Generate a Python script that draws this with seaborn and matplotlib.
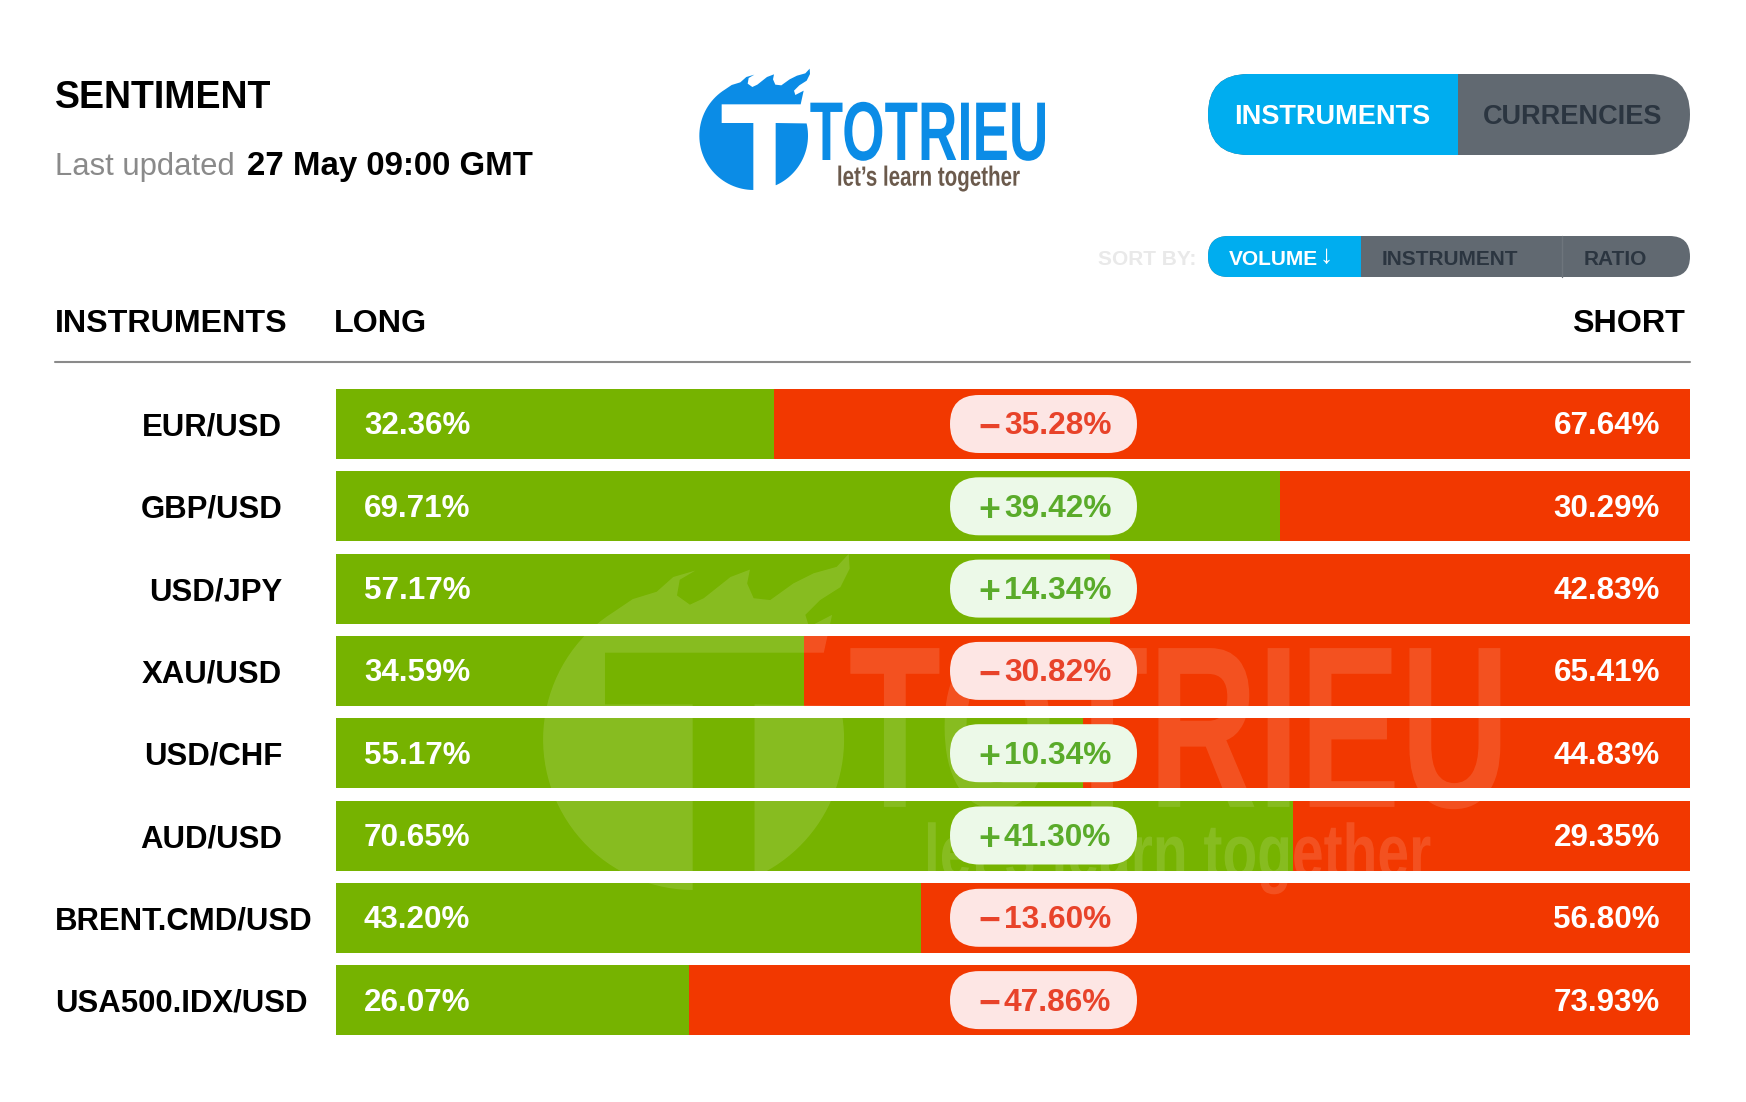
import matplotlib
matplotlib.use("Agg")
import matplotlib.pyplot as plt
import seaborn as sns
import numpy as np
import pandas as pd
from matplotlib.patches import FancyBboxPatch, Polygon, Rectangle
from matplotlib.patheffects import AbstractPathEffect
from matplotlib.transforms import Affine2D

instruments = ["EUR/USD", "GBP/USD", "USD/JPY", "XAU/USD", "USD/CHF", "AUD/USD", "BRENT.CMD/USD", "USA500.IDX/USD"]
long_pct = [32.36, 69.71, 57.17, 34.59, 55.17, 70.65, 43.20, 26.07]
short_pct = [67.64, 30.29, 42.83, 65.41, 44.83, 29.35, 56.80, 73.93]
change = ["−35.28%", "+39.42%", "+14.34%", "−30.82%", "+10.34%", "+41.30%", "−13.60%", "−47.86%"]

W, H = 1746, 1102
GREEN = "#76b300"
RED = "#f23800"
BLUE = "#00adef"
GRAY = "#616971"
DARK = "#2b3540"
LOGO = "#0b8ce6"

# bars in px
BAR_L, BAR_R = 336, 1690
ROW0, PITCH, BAR_H = 424, 82.3, 70

sns.set_theme(style="white")
plt.rcParams["font.family"] = ["Liberation Sans", "DejaVu Sans"]

df = pd.DataFrame({"instrument": instruments, "long": long_pct, "short": short_pct})
df["total"] = df["long"] + df["short"]

fig = plt.figure(figsize=(W / 100, H / 100), dpi=100, facecolor="white")
top = ROW0 - PITCH / 2
bottom = ROW0 + 7 * PITCH + PITCH / 2
ax = fig.add_axes([BAR_L / W, 1 - bottom / H, (BAR_R - BAR_L) / W, (bottom - top) / H])
sns.barplot(data=df, y="instrument", x="total", color=RED, saturation=1, width=BAR_H / PITCH, linewidth=0, ax=ax)
sns.barplot(data=df, y="instrument", x="long", color=GREEN, saturation=1, width=BAR_H / PITCH, linewidth=0, ax=ax)
ax.set_xlim(0, 100)
ax.axis("off")

# overlay in pixel coords for everything that isn't a bar
ov = fig.add_axes([0, 0, 1, 1], facecolor="none")
ov.set_xlim(0, W)
ov.set_ylim(H, 0)
ov.axis("off")


class Squeeze(AbstractPathEffect):
    # no condensed font here, so narrow the text when it is drawn
    def __init__(self, sx, x0):
        super().__init__()
        self.sx = sx
        self.x0 = x0

    def draw_path(self, renderer, gc, tpath, affine, rgbFace=None):
        a = affine + Affine2D().translate(-self.x0, 0).scale(self.sx, 1).translate(self.x0, 0)
        renderer.draw_path(gc, tpath, a, rgbFace)


def txt(x, y, s, size, color="black", weight="bold", ha="left", **kw):
    return ov.text(x, y + 2.5, s, fontsize=size, color=color, fontweight=weight, ha=ha, va="center", zorder=6, **kw)


def pill(x0, y0, x1, y1, r, color, clip=None, z=3):
    p = FancyBboxPatch((x0, y0), x1 - x0, y1 - y0, boxstyle=f"round,pad=0,rounding_size={r}",
                       fc=color, ec="none", zorder=z)
    ov.add_patch(p)
    if clip:
        p.set_clip_path(Rectangle((clip[0], y0 - 2), clip[1] - clip[0], y1 - y0 + 4, transform=ov.transData))
    return p


def draw_logo(x0, y0, s, color, alpha=1.0, z=2, tagline=None):
    def pt(a):
        a = np.asarray(a, float)
        return np.c_[x0 + a[:, 0] / 3 * s, y0 + a[:, 1] / 3 * s]

    cx, cy, r = 191, 242, 163
    t1 = np.radians(np.linspace(87, 238, 50))
    arc = np.c_[cx + r * np.cos(t1), cy + r * np.sin(t1)]
    flame = [(125, 90), (151, 82), (169, 66), (193, 59), (176, 69), (173, 86), (187, 96), (202, 89), (231, 66),
             (252, 58), (249, 73), (256, 89), (274, 91), (299, 73), (321, 62), (346, 55), (359, 41), (360, 57),
             (350, 77), (328, 91), (312, 107), (316, 120), (341, 107), (332, 148), (95, 148), (95, 204),
             (190, 204), (190, 405)]
    left = np.vstack([arc, flame])
    t2 = np.radians(np.linspace(-13, 67, 30))
    right = np.vstack([[(257, 204)], np.c_[cx + r * np.cos(t2), cy + r * np.sin(t2)], [(257, 392)]])
    for part in (left, right):
        ov.add_patch(Polygon(pt(part), closed=True, fc=color, ec="none", alpha=alpha, zorder=z))
    xa = x0 + 717 / 3 * s
    t = ov.text(xa, y0 + 315 / 3 * s, "TOTRIEU", fontweight="bold", fontsize=60 * s, color=color, alpha=alpha,
                ha="center", va="baseline", zorder=z)
    t.set_path_effects([Squeeze(0.655, xa)])
    xb = x0 + 715 / 3 * s
    t = ov.text(xb, y0 + 392 / 3 * s, "let’s learn together", fontweight="bold", fontsize=20 * s,
                color=tagline or color, alpha=alpha, ha="center", va="baseline", zorder=z)
    t.set_path_effects([Squeeze(0.74, xb)])


# header block
txt(55, 96, "SENTIMENT", 27)
txt(55, 164, "Last updated", 22.3, color="#8a8a8a", weight="normal")
txt(247, 164, "27 May 09:00 GMT", 23.8)
draw_logo(690, 55, 1, LOGO, tagline="#6b5a4c")
pill(1208, 74, 1690, 155, 40.5, GRAY)
pill(1208, 74, 1690, 155, 40.5, BLUE, clip=(1200, 1458), z=3.5)
txt(1332, 114, "INSTRUMENTS", 19.5, color="white", ha="center")
txt(1573, 114, "CURRENCIES", 19.5, color=DARK, ha="center")
txt(1098, 257, "SORT BY:", 15, color="#e9e9e9")
pill(1208, 236, 1690, 277, 20.5, GRAY)
pill(1208, 236, 1690, 277, 20.5, BLUE, clip=(1200, 1361), z=3.5)
ov.plot([1562, 1562], [236, 277], color="#6e757c", lw=1, zorder=4)
txt(1229, 257, "VOLUME", 15, color="white")
txt(1326, 253, "↓", 19, color="white", ha="center")
txt(1450, 257, "INSTRUMENT", 15, color=DARK, ha="center")
txt(1615, 257, "RATIO", 15, color=DARK, ha="center")

txt(55, 322, "INSTRUMENTS", 23.2)
txt(334, 322, "LONG", 23.2)
txt(1685, 322, "SHORT", 23.2, ha="right")
ov.plot([55, 1690], [362, 362], color="#8a8a8a", lw=1.5, zorder=2)

# watermark sits over the bars, under the pills
draw_logo(543 - 9.3 * 2.77, 890 - 135 * 2.77, 2.77, "white", alpha=0.13, z=2)

for i, name in enumerate(instruments):
    y = ROW0 + i * PITCH
    if len(name) > 10:
        txt(55, y + 1, name, 22.4)
    else:
        txt(282, y + 1, name, 22.4, ha="right")
    txt(364, y, f"{long_pct[i]:.2f}%", 22.6, color="white")
    txt(1660, y, f"{short_pct[i]:.2f}%", 22.6, color="white", ha="right")
    up = change[i][0] == "+"
    pill(950, y - 29, 1137, y + 29, 29, "#ecf9e8" if up else "#fde6e4")
    col = "#5aab2a" if up else "#e8432a"
    txt(989, y + 2, change[i][0], 27, color=col, ha="center")
    txt(1004, y, change[i][1:], 22.8, color=col)

fig.savefig("out.png", dpi=100)
